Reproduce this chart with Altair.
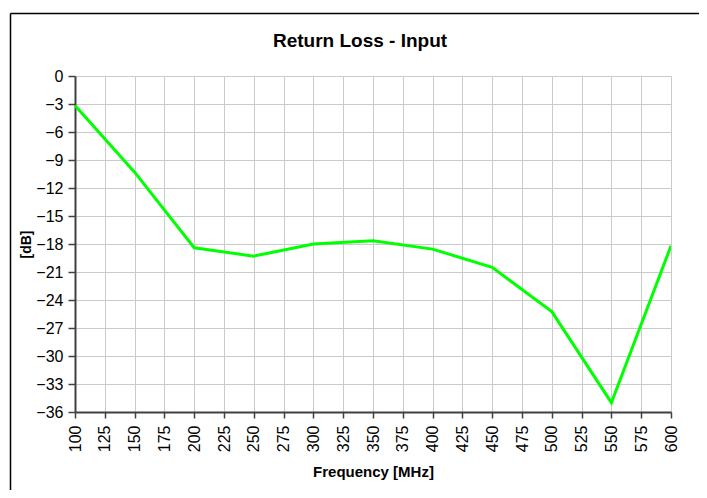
import altair as alt
import pandas as pd

freq_mhz = [100, 150, 200, 250, 300, 350, 400, 450, 500, 550, 600]
return_loss_db = [-3.15, -10.3, -18.4, -19.3, -18.0, -17.65, -18.55, -20.5, -25.25, -35.0, -18.2]
x_ticks = list(range(100, 601, 25))
y_ticks = list(range(-36, 1, 3))
chart_title = ["Return Loss - Input"]

df = pd.DataFrame({"f": freq_mhz, "rl": return_loss_db})

W, H = 596, 336
PAD_L, PAD_T, PAD_R, PAD_B = 67, 68, 28, 78
FONT = "Liberation Sans"

line = alt.Chart(df).mark_line(color="#00FF00", strokeWidth=3, clip=True).encode(
    x=alt.X("f:Q", scale=alt.Scale(domain=[100, 600], nice=False, zero=False),
            axis=alt.Axis(values=x_ticks, title="Frequency [MHz]", labelAngle=270,
                          labelFontSize=16, labelFont=FONT, labelColor="#000000",
                          labelPadding=7, tickSize=6, tickColor="#404040", tickWidth=1.5,
                          domainColor="#404040", domainWidth=2,
                          grid=True, gridColor="#cacaca", gridWidth=1,
                          titleFont=FONT, titleFontSize=15, titleFontWeight="bold",
                          titleColor="#000000", titleY=64, titleX=W / 2,
                          titleBaseline="alphabetic",
                          labelFlush=False, labelOverlap=False)),
    y=alt.Y("rl:Q", scale=alt.Scale(domain=[-36, 0], nice=False, zero=False),
            axis=alt.Axis(values=y_ticks, title="[dB]", labelFontSize=16, labelFont=FONT,
                          labelColor="#000000", labelPadding=5, tickSize=7,
                          tickColor="#404040", tickWidth=1.5,
                          domainColor="#404040", domainWidth=2,
                          grid=True, gridColor="#cacaca", gridWidth=1,
                          titleFont=FONT, titleFontSize=14, titleFontWeight="bold",
                          titleColor="#000000", titleAngle=270, titleX=-45, titleY=H / 2,
                          titleAlign="center", titleBaseline="alphabetic",
                          labelFlush=False, labelOverlap=False)),
)

one = pd.DataFrame({"a": [0]})
frame_v = alt.Chart(one).mark_rule(color="#000000", strokeWidth=1.5).encode(
    x=alt.value(-64.5), y=alt.value(-62.5), y2=alt.value(H + PAD_B)
)
frame_h = alt.Chart(one).mark_rule(color="#000000", strokeWidth=1.5).encode(
    x=alt.value(-64.5), x2=alt.value(W + PAD_R), y=alt.value(-62.5)
)
title = alt.Chart(pd.DataFrame({"t": chart_title})).mark_text(
    font=FONT, fontSize=19, fontWeight="bold", color="#000000",
    align="center", baseline="alphabetic"
).encode(text="t:N", x=alt.value(285), y=alt.value(-28.7))

chart = alt.layer(frame_v, frame_h, line, title).properties(
    width=W, height=H,
    padding={"left": PAD_L, "top": PAD_T, "right": PAD_R, "bottom": PAD_B},
    autosize=alt.AutoSizeParams(type="none"),
).configure_view(stroke="#808080", strokeWidth=1.5).configure(background="white")

chart.save("out.html", embed_options={"renderer": "svg", "actions": False})
